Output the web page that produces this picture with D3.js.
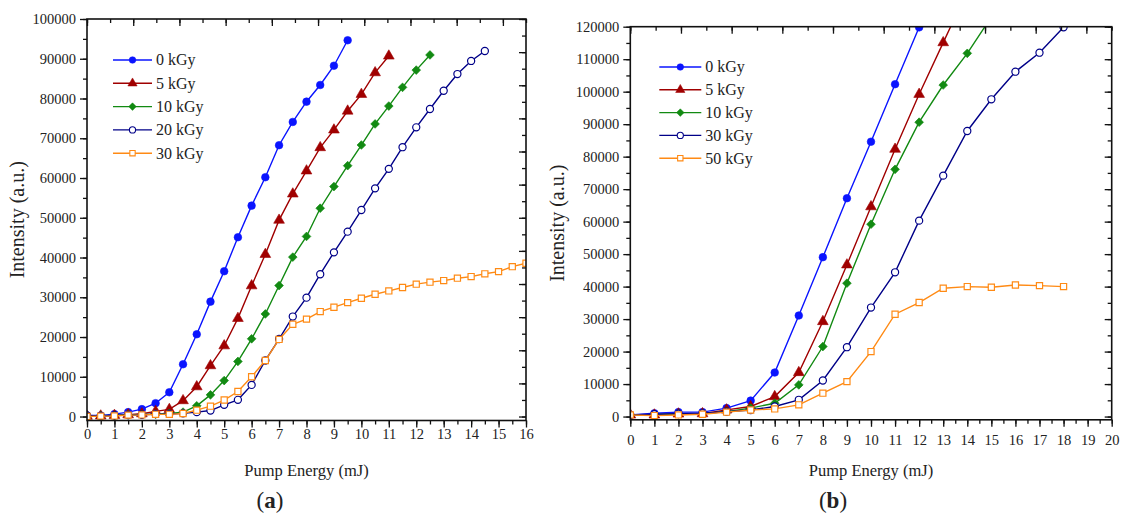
<!DOCTYPE html>
<meta charset="utf-8">
<style>
body { margin: 0; background: #fff; }
svg text { font-family: "Liberation Serif", "Times New Roman", "DejaVu Serif", serif !important; fill: #222; }
</style>
<svg width="1121" height="517"></svg>
<script src="https://cdnjs.cloudflare.com/ajax/libs/d3/7.8.5/d3.min.js"></script>
<script>

// ---- panel (a) ----
var energyA = [0, 0.5, 1, 1.5, 2, 2.5, 3, 3.5, 4, 4.5, 5, 5.5, 6, 6.5, 7, 7.5, 8, 8.5,
               9, 9.5, 10, 10.5, 11, 11.5, 12, 12.5, 13, 13.5, 14, 14.5, 15, 15.5, 16];
var a0kGy  = [250, 250, 600, 1100, 1850, 3350, 6100, 13150, 20700, 28900, 36550, 45100, 53050,
              60200, 68250, 74100, 79200, 83400, 88250, 94650];
var a5kGy  = [100, 150, 300, 450, 700, 1300, 1800, 4000, 7500, 12800, 17800, 24700, 32900,
              40800, 49400, 56000, 61800, 67650, 72100, 76850, 81050, 86500, 90700];
var a10kGy = [200, 200, 300, 400, 500, 600, 800, 1100, 2700, 5450, 9050, 13850, 19550, 25800,
              32950, 40100, 45300, 52400, 57850, 63100, 68300, 73600, 78100, 82800, 87150, 90950];
var a20kGy = [250, 150, 250, 350, 450, 600, 650, 800, 1100, 1500, 2950, 4200, 7950, 14100,
              19500, 25150, 29900, 35800, 41300, 46500, 51950, 57400, 62300, 67750, 72750,
              77350, 81950, 86150, 89450, 91950];
var a30kGy = [0, 100, 150, 350, 400, 550, 550, 750, 1600, 2600, 4150, 6300, 10000, 14100,
              19400, 23200, 24500, 26400, 27500, 28650, 29750, 30750, 31600, 32450, 33300,
              33800, 34200, 34800, 35200, 35900, 36450, 37700, 38550];
var labelsA = ["0 kGy", "5 kGy", "10 kGy", "20 kGy", "30 kGy"];

// ---- panel (b) ----
var energyB = [0, 1, 2, 3, 4, 5, 6, 7, 8, 9, 10, 11, 12, 13, 14, 15, 16, 17, 18];
var b0kGy  = [500, 1000, 1350, 1350, 2600, 4900, 13550, 31100, 49050, 67200, 84600, 102300, 119800];
var b5kGy  = [500, 500, 800, 900, 2050, 3100, 6150, 13550, 29250, 46700, 64600, 82300, 99200,
              115100, 131000];
var b10kGy = [500, 600, 800, 900, 1500, 2600, 4100, 9750, 21550, 41050, 59200, 76100, 90600,
              102050, 111800, 123000];
var b30kGy = [500, 700, 900, 1000, 1500, 2000, 3100, 5150, 11100, 21350, 33550, 44400, 60300,
              74150, 87900, 97650, 106150, 112000, 119800];
var b50kGy = [500, 300, 500, 700, 1350, 2000, 2350, 3600, 7200, 10750, 20000, 31500, 35100,
              39500, 40000, 39800, 40500, 40300, 40000];
var labelsB = ["0 kGy", "5 kGy", "10 kGy", "30 kGy", "50 kGy"];

var colors  = ["#0a14ff", "#a00000", "#128a12", "#000088", "#ff8a14"];
var symbols = [d3.symbolCircle, d3.symbolTriangle, d3.symbolSquare, d3.symbolCircle, d3.symbolSquare];
var sizes   = [46, 50, 38, 40, 38];
var turn    = [0, 0, 45, 0, 0];     // the 10 kGy marker is a square turned on its corner
var open    = [false, false, false, true, true];

var serif = '"Liberation Serif", "Times New Roman", serif';
var svg = d3.select("svg");

function drawChart(c) {
  var x = d3.scaleLinear().domain(c.xDomain).range([c.left, c.right]);
  var y = d3.scaleLinear().domain(c.yDomain).range([c.bottom, c.top]);
  var xTop = d3.scaleLinear().domain([0, 9.5]).range([c.left, c.right]);
  var yRight = c.rightScale(y);

  var g = svg.append("g");

  g.append("clipPath").attr("id", "clip-" + c.id)
    .append("rect")
      .attr("x", c.left).attr("y", c.top)
      .attr("width", c.right - c.left).attr("height", c.bottom - c.top);

  var plot = g.append("g").attr("clip-path", "url(#clip-" + c.id + ")");

  c.series.forEach(function(vals, k) {
    var pts = vals.map(function(v, i) { return [c.energy[i], v]; });
    plot.append("path").datum(pts)
      .attr("fill", "none")
      .attr("stroke", colors[k])
      .attr("stroke-width", 1.4)
      .attr("d", d3.line().x(function(d) { return x(d[0]); }).y(function(d) { return y(d[1]); }));
    plot.append("g").selectAll("path")
      .data(pts)
      .enter().append("path")
        .attr("transform", function(d) { return "translate(" + x(d[0]) + "," + y(d[1]) + ") rotate(" + turn[k] + ")"; })
        .attr("d", d3.symbol().type(symbols[k]).size(sizes[k]))
        .attr("fill", open[k] ? "#fff" : colors[k])
        .attr("stroke", colors[k])
        .attr("stroke-width", open[k] ? 1.2 : 0.6);
  });

  // axes: bottom/left outward with labels, top/right inward without
  var xt = x.ticks(c.xDomain[1]), xm = x.ticks(c.xDomain[1] * 2);
  var yt = y.ticks(c.yMajor), ym = y.ticks(c.yMajor * 2);

  g.append("g").attr("transform", "translate(0," + c.bottom + ")")
    .call(d3.axisBottom(x).tickValues(xm).tickSize(4).tickFormat(""));
  g.append("g").attr("transform", "translate(0," + c.bottom + ")")
    .call(d3.axisBottom(x).tickValues(xt).tickSize(7).tickPadding(c.xPad).tickFormat(d3.format("d")));

  g.append("g").attr("transform", "translate(" + c.left + ",0)")
    .call(d3.axisLeft(y).tickValues(ym).tickSize(4).tickFormat(""));
  g.append("g").attr("transform", "translate(" + c.left + ",0)")
    .call(d3.axisLeft(y).tickValues(yt).tickSize(7).tickPadding(4).tickFormat(d3.format("d")));

  g.append("g").attr("transform", "translate(0," + c.top + ")")
    .call(d3.axisBottom(xTop).ticks(19).tickSize(4).tickFormat(""));
  g.append("g").attr("transform", "translate(0," + c.top + ")")
    .call(d3.axisBottom(xTop).ticks(9).tickSize(7).tickFormat(""));

  var rTicks = yRight.ticks(c.rMajor * 2).filter(function(v) { return yRight(v) >= c.top - 0.5; });
  var rMajor = yRight.ticks(c.rMajor).filter(function(v) { return yRight(v) >= c.top - 0.5; });
  g.append("g").attr("transform", "translate(" + c.right + ",0)")
    .call(d3.axisLeft(yRight).tickValues(rTicks).tickSize(4).tickFormat(""));
  g.append("g").attr("transform", "translate(" + c.right + ",0)")
    .call(d3.axisLeft(yRight).tickValues(rMajor).tickSize(7).tickFormat(""));

  g.selectAll(".domain").remove();
  g.selectAll("g").attr("font-family", null);
  g.selectAll(".tick line").attr("stroke", "#111").attr("stroke-width", 1.3);
  g.selectAll(".tick text").attr("font-size", 14.5).attr("fill", "#222")
    .style("font-family", serif);

  g.append("rect")
    .attr("x", c.left).attr("y", c.top)
    .attr("width", c.right - c.left).attr("height", c.bottom - c.top)
    .attr("fill", "none").attr("stroke", "#111").attr("stroke-width", 1.6);

  // legend
  var leg = g.append("g").attr("transform", "translate(" + (c.left + c.legX) + "," + (c.top + c.legY) + ")");
  c.labels.forEach(function(lab, k) {
    var row = leg.append("g").attr("transform", "translate(0," + (k * c.legStep) + ")");
    row.append("line").attr("x1", 0).attr("x2", c.legLen).attr("y1", 0).attr("y2", 0)
      .attr("stroke", colors[k]).attr("stroke-width", 1.4);
    row.append("path").attr("transform", "translate(" + (c.legLen / 2) + ",0) rotate(" + turn[k] + ")")
      .attr("d", d3.symbol().type(symbols[k]).size(sizes[k] * 0.75))
      .attr("fill", open[k] ? "#fff" : colors[k])
      .attr("stroke", colors[k]).attr("stroke-width", open[k] ? 1.1 : 0.5);
    row.append("text").attr("x", c.legLen + 4).attr("y", 0).attr("dy", "0.34em")
      .attr("font-size", 16).style("font-family", serif).text(lab);
  });

  // axis titles
  g.append("text")
    .attr("transform", "translate(" + c.yLabelX + "," + ((c.top + c.bottom) / 2) + ") rotate(-90)")
    .attr("text-anchor", "middle").attr("font-size", 20).style("font-family", serif)
    .text("Intensity (a.u.)");
  g.append("text")
    .attr("x", (c.left + c.right) / 2).attr("y", c.xLabelY)
    .attr("text-anchor", "middle").attr("font-size", 16.5).style("font-family", serif)
    .text("Pump Energy (mJ)");

  var tag = g.append("text")
    .attr("x", c.tagX).attr("y", 508)
    .attr("text-anchor", "middle").attr("font-size", 23).style("font-family", serif);
  tag.append("tspan").text("(");
  tag.append("tspan").attr("font-weight", "bold").text(c.tag);
  tag.append("tspan").text(")");
}

drawChart({
  id: "a", left: 87, right: 526, top: 19, bottom: 420.5,
  xDomain: [0, 16], yDomain: [-1000, 100000], yMajor: 10,
  rightScale: function(y) { return d3.scaleLinear().domain([0, 12]).range([y(0), y(100000)]); },
  rMajor: 12,
  energy: energyA, series: [a0kGy, a5kGy, a10kGy, a20kGy, a30kGy], labels: labelsA,
  legX: 26, legY: 41, legStep: 23.3, legLen: 39,
  xPad: 1, yLabelX: 24, xLabelY: 476, tagX: 270, tag: "a"
});

drawChart({
  id: "b", left: 630.3, right: 1111.7, top: 26.7, bottom: 419.8,
  xDomain: [0, 20], yDomain: [-1000, 120000], yMajor: 12,
  rightScale: function(y) { return y; },
  rMajor: 12,
  energy: energyB, series: [b0kGy, b5kGy, b10kGy, b30kGy, b50kGy], labels: labelsB,
  legX: 29, legY: 40.3, legStep: 22.8, legLen: 42,
  xPad: 8, yLabelX: 564, xLabelY: 476, tagX: 833, tag: "b"
});

</script>
